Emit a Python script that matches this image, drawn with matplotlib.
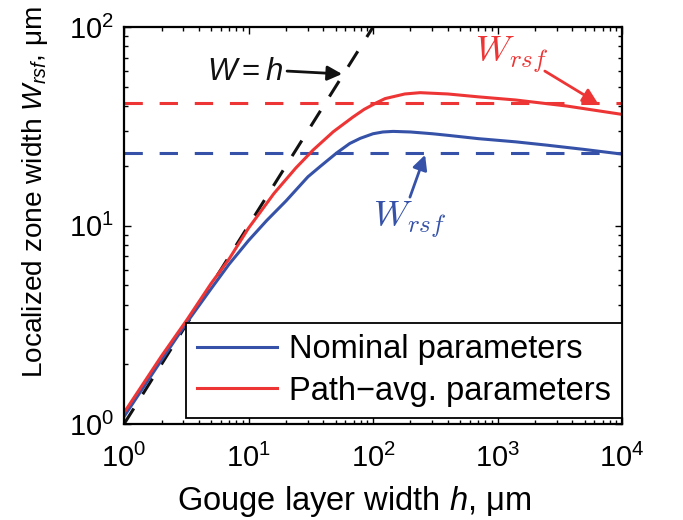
import numpy as np
import matplotlib
matplotlib.use("Agg")
import matplotlib.pyplot as plt
from matplotlib.ticker import LogLocator, LogFormatterMathtext, NullFormatter

plt.rcParams['font.family'] = ['Liberation Sans', 'DejaVu Sans']
plt.rcParams['mathtext.fontset'] = 'custom'
plt.rcParams['mathtext.rm'] = 'Liberation Sans'
plt.rcParams['mathtext.it'] = 'Liberation Sans:italic'
plt.rcParams['mathtext.bf'] = 'Liberation Sans:bold'

# gouge layer width h (um) and localized zone width W (um)
h_nominal = [1, 2, 3.2, 5, 7, 10, 14, 20, 30, 37.5, 51, 65, 79, 100, 120, 145,
             200, 300, 415, 700, 1400, 2500, 4900, 10000]
w_nominal = [1.09, 2.1, 3.25, 4.8, 6.4, 8.4, 10.6, 13.3, 17.6, 19.8, 23.2, 25.9,
             27.5, 29.0, 29.6, 29.8, 29.6, 29.0, 28.4, 27.4, 26.4, 25.4, 24.2, 22.9]

h_pathavg = [1, 2, 3.2, 5, 7, 10, 16, 24, 33, 48, 69, 85, 107, 125, 180, 239,
             400, 700, 1400, 3600, 10000]
w_pathavg = [1.14, 2.2, 3.35, 5.1, 6.8, 9.7, 14.5, 19.5, 24.0, 29.7, 35.2, 38.5,
             41.6, 43.6, 46.0, 46.7, 46.0, 44.5, 42.9, 40.0, 36.3]

# asymptotic W_rsf for each parameter set
wrsf_nominal = 23.3
wrsf_pathavg = 41.3

# W = h reference line
h_ref = [1, 100]

blue = '#3552a8'
red = '#ee3535'
black = '#111111'

fig = plt.figure(figsize=(6.83, 5.2), dpi=100)
ax = fig.add_axes([0.1816, 0.1846, 0.7291, 0.7634])

x_lim = (1, 1e4)
lw = 2.2
dash = (6, 5.5)
ax.plot(x_lim, [wrsf_pathavg] * 2, color=red, lw=lw, dashes=dash)
ax.plot(x_lim, [wrsf_nominal] * 2, color=blue, lw=lw, dashes=dash)
ax.plot(h_ref, h_ref, color=black, lw=lw, dashes=dash)
ax.plot(h_nominal, w_nominal, color=blue, lw=lw, label='Nominal parameters')
ax.plot(h_pathavg, w_pathavg, color=red, lw=lw, label='Path\u2212avg. parameters')

ax.set_xscale('log')
ax.set_yscale('log')
ax.set_xlim(*x_lim)
ax.set_ylim(1, 100)

for axis in (ax.xaxis, ax.yaxis):
    axis.set_major_locator(LogLocator(base=10, numticks=10))
    axis.set_minor_locator(LogLocator(base=10, subs=np.arange(2, 10), numticks=10))
    axis.set_major_formatter(LogFormatterMathtext())
    axis.set_minor_formatter(NullFormatter())

ax.tick_params(which='both', direction='in', top=True, right=True, width=1.0,
               labelsize=21)
ax.tick_params(which='major', length=5)
ax.tick_params(which='minor', length=3)
ax.tick_params(axis='x', pad=14)
ax.tick_params(axis='y', pad=7)
for sp in ax.spines.values():
    sp.set_linewidth(1.6)

ax.set_xlabel('Gouge layer width $h$, \u03bcm', fontsize=23.5)
ax.set_ylabel('Localized zone width $W_{rsf}$, \u03bcm', fontsize=20.2)
ax.yaxis.set_label_coords(-0.148, 0.584)
ax.xaxis.set_label_coords(0.462, -0.152)

# W = h label and arrow
ax.text(9.4, 59.3, '$W = h$', fontsize=22.5, color=black, ha='center', va='center')
ax.annotate('', xy=(56.4, 58), xytext=(20.4, 60),
            arrowprops=dict(arrowstyle='-|>', color=black, lw=2.0,
                            mutation_scale=22, shrinkA=0, shrinkB=0))

# W_rsf labels and arrows
ax.text(1300, 72, '$W_{rsf}$', fontsize=26, color=red, ha='center', va='center',
        math_fontfamily='cm')
ax.annotate('', xy=(6400, 41.3), xytext=(2400, 60),
            arrowprops=dict(arrowstyle='-|>', color=red, lw=2.0,
                            mutation_scale=22, shrinkA=0, shrinkB=0))
ax.text(198, 10.7, '$W_{rsf}$', fontsize=26, color=blue, ha='center', va='center',
        math_fontfamily='cm')
ax.annotate('', xy=(262, 22.7), xytext=(198, 13.9),
            arrowprops=dict(arrowstyle='-|>', color=blue, lw=2.0,
                            mutation_scale=22, shrinkA=0, shrinkB=0))

leg = ax.legend(loc='lower right', bbox_to_anchor=(1.0, 0.015), borderaxespad=0,
                fontsize=23.5, frameon=True, fancybox=False, handlelength=2.45,
                handletextpad=0.35, borderpad=0.35, labelspacing=0.32)
leg.get_frame().set_edgecolor('black')
leg.get_frame().set_linewidth(1.3)
leg.get_frame().set_alpha(1)

fig.savefig('out.png', dpi=100)
